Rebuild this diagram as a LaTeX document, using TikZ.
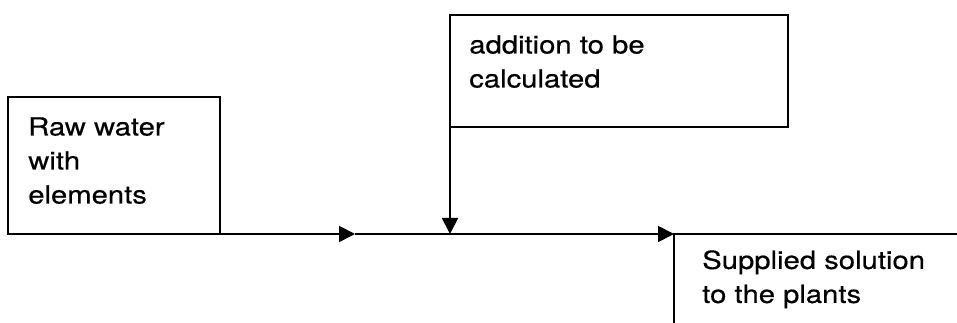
\documentclass[tikz,border=0pt]{standalone}
\usepackage{fontspec}
\setmainfont{TeX Gyre Heros}[FakeStretch=1.17,FakeBold=0.4]
\usetikzlibrary{arrows.meta}
\begin{document}
\begin{tikzpicture}[x=0.75pt,y=-0.75pt,
		box/.style={draw,line width=1.4pt,inner sep=0pt,outer sep=0pt,anchor=north west},
		boxtext/.style={inner sep=0pt,anchor=north west,align=left,font=\fontsize{18.75}{25.5}\selectfont},
		flow/.style={line width=1.4pt,-{Triangle[length=12pt,width=12pt]}}]
				\useasboundingbox (0,0) rectangle (957,323);
				\clip (0,0) rectangle (957,323);
				
				\node[box,minimum width=159pt,minimum height=102.75pt] (raw) at (8,97) {};
				\node[boxtext] (rawtext) at ([shift={(20,20)}]raw.north west) {Raw water\\with\\elements};
				
				\node[box,minimum width=253.5pt,minimum height=84pt] (calc) at (450,15) {};
				\node[boxtext] (calctext) at ([shift={(19,20)}]calc.north west) {addition to be\\calculated};
				
				\node[box,minimum width=300pt,minimum height=100pt] (supply) at (674,234) {};
				\node[boxtext] (supplytext) at ([shift={(28,16)}]supply.north west) {Supplied solution\\to the plants};
				
				\coordinate (mid) at (355,234);
				\coordinate (mix) at (calc.south west |- raw.south east);
				\draw[flow] (raw.south east) -- (mid);
				\draw[flow] (mid) -- (supply.north west);
				\draw[flow] (calc.south west) -- (mix);
			\end{tikzpicture}
\end{document}
